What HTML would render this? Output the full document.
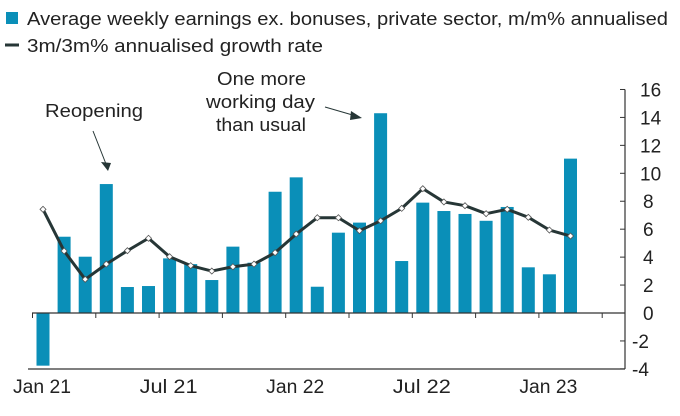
<!DOCTYPE html>
<html><head><meta charset="utf-8"><style>
body{margin:0;background:#fff;width:680px;height:411px;overflow:hidden;font-family:"Liberation Sans",sans-serif;color:#222}
svg text{font-family:"Liberation Sans",sans-serif;fill:#222}
</style></head><body>
<svg id="chart" width="680" height="411">
<g>
<rect x="6" y="12" width="12" height="12" fill="#0a8fb8"/>
<text x="27" y="25" font-size="18" textLength="641" lengthAdjust="spacingAndGlyphs">Average weekly earnings ex. bonuses, private sector, m/m% annualised</text>
<line x1="5" y1="45" x2="19" y2="45" stroke="#263636" stroke-width="3"/>
<text x="27" y="52" font-size="18" textLength="296" lengthAdjust="spacingAndGlyphs">3m/3m% annualised growth rate</text>
</g>
<g id="plot"></g>
<g>
<text x="45" y="117" font-size="18" textLength="98" lengthAdjust="spacingAndGlyphs">Reopening</text>
<line x1="93" y1="131" x2="106" y2="164" stroke="#263636" stroke-width="1"/>
<polygon points="101,162 111,163 108,171" fill="#263636"/>
<text x="217" y="85" font-size="18" textLength="89" lengthAdjust="spacingAndGlyphs">One more</text>
<text x="206" y="108" font-size="18" textLength="109" lengthAdjust="spacingAndGlyphs">working day</text>
<text x="216" y="131" font-size="18" textLength="90" lengthAdjust="spacingAndGlyphs">than usual</text>
<line x1="325" y1="107" x2="356" y2="116" stroke="#263636" stroke-width="1"/>
<polygon points="351,111 362,118 350,120" fill="#263636"/>
</g>
</svg>
<script>
const categories=["Jan 21","Feb 21","Mar 21","Apr 21","May 21","Jun 21","Jul 21","Aug 21","Sep 21","Oct 21","Nov 21","Dec 21","Jan 22","Feb 22","Mar 22","Apr 22","May 22","Jun 22","Jul 22","Aug 22","Sep 22","Oct 22","Nov 22","Dec 22","Jan 23","Feb 23"];
const barValues=[-3.77,5.46,4.03,9.23,1.86,1.93,3.91,3.5,2.36,4.75,3.6,8.68,9.71,1.88,5.75,6.47,14.3,3.72,7.9,7.3,7.09,6.6,7.59,3.27,2.77,11.05];
const lineValues=[7.42,4.44,2.41,3.5,4.46,5.35,4.03,3.39,3.0,3.31,3.5,4.32,5.65,6.82,6.82,5.89,6.6,7.49,8.9,7.95,7.68,7.11,7.42,6.85,5.94,5.51];
const yTicks=[16,14,12,10,8,6,4,2,0,-2,-4];
const xLabels=["Jan 21","Jul 21","Jan 22","Jul 22","Jan 23"];
const NS="http://www.w3.org/2000/svg";
const g=document.getElementById('plot');
const y=v=>313-v*13.97;
const x=i=>43+i*21.1;
function mk(t,a){const e=document.createElementNS(NS,t);for(const k in a)e.setAttribute(k,a[k]);g.appendChild(e);return e;}
let e=mk('line',{x1:28,y1:369,x2:625,y2:369,stroke:'#333','stroke-width':1.2});


e=mk('line',{x1:625,y1:y(16),x2:625,y2:369,stroke:'#333','stroke-width':1.2});


yTicks.forEach(v=>{
 mk('line',{x1:620,y1:y(v),x2:625,y2:y(v),stroke:'#333'});
 const t=mk('text',{x:v<0?632:(v>=10?640:643),y:y(v)+7,'font-size':19});t.textContent=v;
 
 
});
barValues.forEach((v,i)=>{
 const r=mk('rect',{x:x(i)-6.5,y:Math.min(y(v),y(0)),width:13,height:Math.abs(y(v)-y(0)),fill:'#0a8fb8'});
 
 
});
e=mk('line',{x1:32,y1:y(0),x2:625,y2:y(0),stroke:'#333','stroke-width':1.2});


for(let i=0;i<=27;i+=3){mk('line',{x1:x(i)-10.5,y1:y(0),x2:x(i)-10.5,y2:y(0)+5,stroke:'#333'});}
const pl=mk('polyline',{points:lineValues.map((v,i)=>x(i)+','+y(v)).join(' '),fill:'none',stroke:'#263636','stroke-width':3,'stroke-linejoin':'round'});


lineValues.forEach((v,i)=>{
 const c=mk('path',{d:`M${x(i)-3},${y(v)} L${x(i)},${y(v)-3} L${x(i)+3},${y(v)} L${x(i)},${y(v)+3}Z`,fill:'#fff',stroke:'#555','stroke-width':0.8});
 
 
});
xLabels.forEach(l=>{
 const i=categories.indexOf(l);
 const t=mk('text',{x:x(i)-1,y:393,'font-size':19,'text-anchor':'middle',textLength:58,lengthAdjust:'spacingAndGlyphs'});t.textContent=l;
 
 
});
</script>
</body></html>
